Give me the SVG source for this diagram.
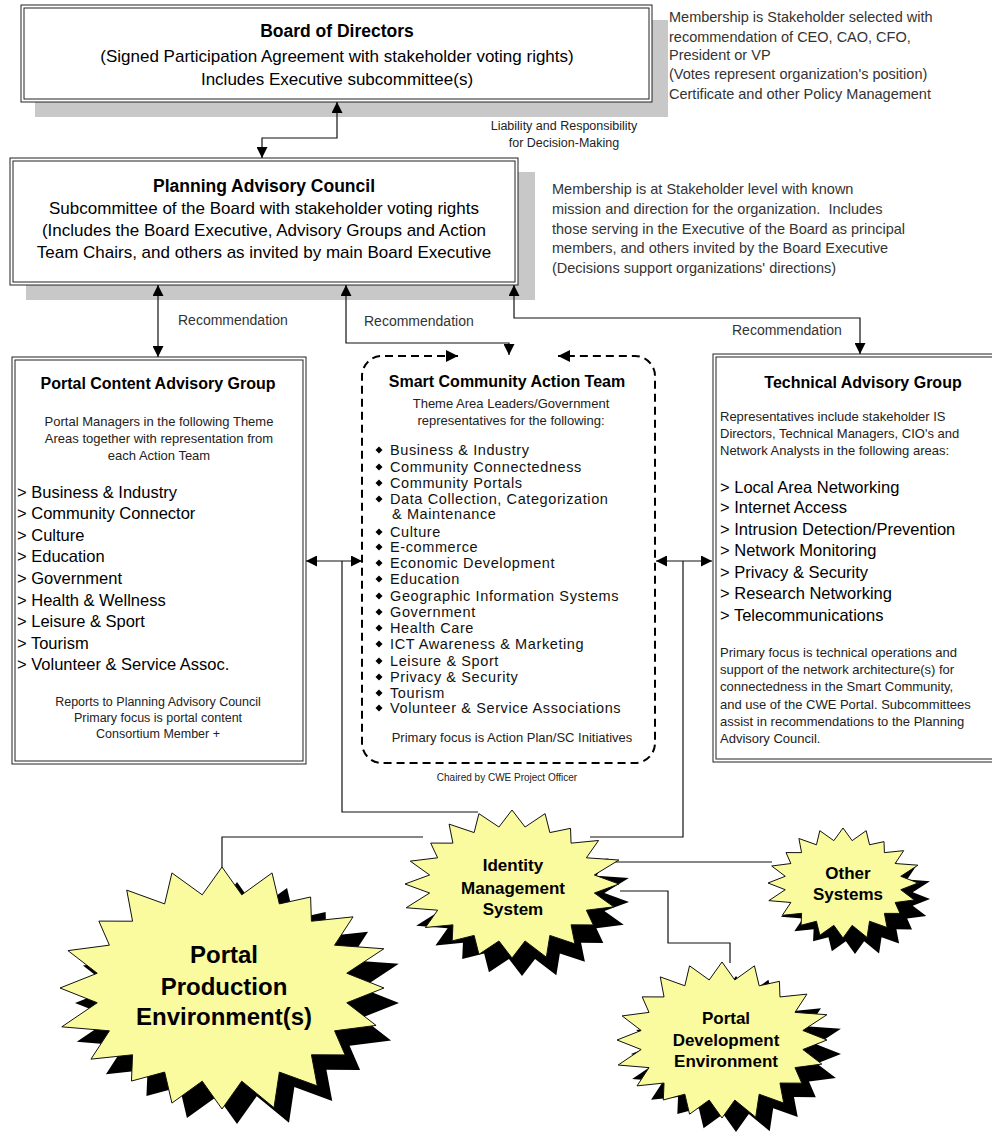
<svg xmlns="http://www.w3.org/2000/svg" width="992" height="1132" viewBox="0 0 992 1132">
<style>
text{font-family:"Liberation Sans",Arial,sans-serif;fill:#000}
.b{font-weight:bold}
.c{text-anchor:middle}
.h1{font-size:17.5px;font-weight:bold}
.t17{font-size:17px}
.h2{font-size:16px;font-weight:bold}
.note{font-size:14.5px;fill:#333}
.small{font-size:12.5px;fill:#222}
.desc{font-size:13px;fill:#222}
.item{font-size:16.5px}
.sitem{font-size:14.5px;letter-spacing:0.6px;fill:#111}
.rec{font-size:14px;fill:#333}
.tiny{font-size:10px;fill:#222}
.outer{fill:#fff;stroke:#222;stroke-width:1}
.inner{fill:none;stroke:#222;stroke-width:1}
.shadow{fill:#c8c8c8}
.line{fill:none;stroke:#111;stroke-width:1.2}
.arr{marker-start:url(#ah);marker-end:url(#ah)}
.dash{fill:#fff;stroke:#000;stroke-width:2;stroke-dasharray:8 5}
.starS{fill:#000}
.starF{fill:#fafa9e;stroke:#111;stroke-width:1}
.starT{font-weight:bold;font-size:17px;text-anchor:middle}
</style>
<defs>
<marker id="ah" viewBox="0 0 10 10" refX="10" refY="5" markerWidth="11" markerHeight="11" markerUnits="userSpaceOnUse" orient="auto-start-reverse"><path d="M0,0L10,5L0,10z" fill="#000"/></marker>
<marker id="ahd" viewBox="0 0 10 10" refX="10" refY="5" markerWidth="12" markerHeight="12" markerUnits="userSpaceOnUse" orient="auto-start-reverse"><path d="M0,0L10,5L0,10z" fill="#000"/></marker>
<polygon id="star" vector-effect="non-scaling-stroke" points="0,-100 12.2,-77 30.9,-95.1 35.4,-69.5 54.7,-75.2 55.2,-55.2 80.9,-58.8 69.5,-35.4 99.9,-32.4 77,-12.2 100,0 77,12.2 95.1,30.9 69.5,35.4 76,55.3 55.2,55.2 58.8,80.9 35.4,69.5 32.1,98.9 12.2,77 0,100 -12.2,77 -30.9,95.1 -35.4,69.5 -55.9,76.9 -55.2,55.2 -80.9,58.8 -69.5,35.4 -98.9,32.1 -77,12.2 -100,0 -77,-12.2 -95.1,-30.9 -69.5,-35.4 -76,-55.3 -55.2,-55.2 -58.8,-80.9 -35.4,-69.5 -30.9,-95.1 -12.2,-77"/>
<path id="dia" d="M0,-3.5L3.5,0L0,3.5L-3.5,0z" fill="#000"/>
</defs>

<rect width="992" height="1132" fill="#fff"/>

<g id="board">
<rect class="shadow" x="35" y="20" width="633" height="97"/>
<rect class="outer" x="21" y="5" width="631" height="97"/>
<rect class="inner" x="24" y="8" width="625" height="91"/>
<text class="h1 c" x="337" y="37">Board of Directors</text>
<text class="t17 c" x="337" y="62">(Signed Participation Agreement with stakeholder voting rights)</text>
<text class="t17 c" x="337" y="85">Includes Executive subcommittee(s)</text>
</g>

<g id="board-note">
<text class="note" x="669" y="22">Membership is Stakeholder selected with</text>
<text class="note" x="669" y="42">recommendation of CEO, CAO, CFO,</text>
<text class="note" x="669" y="60">President or VP</text>
<text class="note" x="669" y="79">(Votes represent organization's position)</text>
<text class="note" x="669" y="99">Certificate and other Policy Management</text>
</g>

<g id="planning">
<rect class="shadow" x="26" y="172" width="509" height="128"/>
<rect class="outer" x="10" y="158" width="508" height="127"/>
<rect class="inner" x="13" y="161" width="502" height="121"/>
<text class="h1 c" x="264" y="192">Planning Advisory Council</text>
<text class="t17 c" x="264" y="214">Subcommittee of the Board with stakeholder voting rights</text>
<text class="t17 c" x="264" y="236">(Includes the Board Executive, Advisory Groups and Action</text>
<text class="t17 c" x="264" y="258">Team Chairs, and others as invited by main Board Executive</text>
</g>

<g id="planning-note">
<text class="note" x="552" y="194">Membership is at Stakeholder level with known</text>
<text class="note" x="552" y="214" xml:space="preserve">mission and direction for the organization.  Includes</text>
<text class="note" x="552" y="234">those serving in the Executive of the Board as principal</text>
<text class="note" x="552" y="253">members, and others invited by the Board Executive</text>
<text class="note" x="552" y="273">(Decisions support organizations' directions)</text>
</g>

<g id="portal-content">
<rect class="outer" x="12" y="357" width="294" height="407"/>
<rect class="inner" x="15" y="360" width="288" height="401"/>
<text class="h2 c" x="158" y="389">Portal Content Advisory Group</text>
<text class="desc c" x="159" y="426">Portal Managers in the following Theme</text>
<text class="desc c" x="159" y="443">Areas together with representation from</text>
<text class="desc c" x="159" y="460">each Action Team</text>
<text class="item" x="17" y="498">&gt; Business &amp; Industry</text>
<text class="item" x="17" y="519">&gt; Community Connector</text>
<text class="item" x="17" y="541">&gt; Culture</text>
<text class="item" x="17" y="562">&gt; Education</text>
<text class="item" x="17" y="584">&gt; Government</text>
<text class="item" x="17" y="606">&gt; Health &amp; Wellness</text>
<text class="item" x="17" y="627">&gt; Leisure &amp; Sport</text>
<text class="item" x="17" y="649">&gt; Tourism</text>
<text class="item" x="17" y="670">&gt; Volunteer &amp; Service Assoc.</text>
<text class="small c" x="158" y="706">Reports to Planning Advisory Council</text>
<text class="small c" x="158" y="722">Primary focus is portal content</text>
<text class="small c" x="158" y="738">Consortium Member +</text>
</g>

<g id="action-team">
<path class="dash" d="M458,356H382A20,20 0 0 0 362,376V743A20,20 0 0 0 382,763H635A20,20 0 0 0 655,743V376A20,20 0 0 0 635,356H558" marker-start="url(#ahd)" marker-end="url(#ahd)"/>
<text class="h2 c" x="507" y="387">Smart Community Action Team</text>
<text class="desc c" x="511" y="408">Theme Area Leaders/Government</text>
<text class="desc c" x="511" y="425">representatives for the following:</text>
<use href="#dia" x="379" y="450"/><text class="sitem" x="390" y="455">Business &amp; Industry</text>
<use href="#dia" x="379" y="467"/><text class="sitem" x="390" y="472">Community Connectedness</text>
<use href="#dia" x="379" y="483"/><text class="sitem" x="390" y="488">Community Portals</text>
<use href="#dia" x="379" y="499"/><text class="sitem" x="390" y="504">Data Collection, Categorization</text>
<text class="sitem" x="392" y="519">&amp; Maintenance</text>
<use href="#dia" x="379" y="532"/><text class="sitem" x="390" y="537">Culture</text>
<use href="#dia" x="379" y="547"/><text class="sitem" x="390" y="552">E-commerce</text>
<use href="#dia" x="379" y="563"/><text class="sitem" x="390" y="568">Economic Development</text>
<use href="#dia" x="379" y="579"/><text class="sitem" x="390" y="584">Education</text>
<use href="#dia" x="379" y="596"/><text class="sitem" x="390" y="601">Geographic Information Systems</text>
<use href="#dia" x="379" y="612"/><text class="sitem" x="390" y="617">Government</text>
<use href="#dia" x="379" y="628"/><text class="sitem" x="390" y="633">Health Care</text>
<use href="#dia" x="379" y="644"/><text class="sitem" x="390" y="649">ICT Awareness &amp; Marketing</text>
<use href="#dia" x="379" y="661"/><text class="sitem" x="390" y="666">Leisure &amp; Sport</text>
<use href="#dia" x="379" y="677"/><text class="sitem" x="390" y="682">Privacy &amp; Security</text>
<use href="#dia" x="379" y="693"/><text class="sitem" x="390" y="698">Tourism</text>
<use href="#dia" x="379" y="708"/><text class="sitem" x="390" y="713">Volunteer &amp; Service Associations</text>
<text class="desc c" x="512" y="742">Primary focus is Action Plan/SC Initiatives</text>
<text class="tiny c" x="507" y="781">Chaired by CWE Project Officer</text>
</g>

<g id="technical">
<rect class="outer" x="713" y="354" width="290" height="408"/>
<rect class="inner" x="716" y="357" width="284" height="402"/>
<text class="h2 c" x="863" y="388">Technical Advisory Group</text>
<text class="desc" x="720" y="421">Representatives include stakeholder IS</text>
<text class="desc" x="720" y="438">Directors, Technical Managers, CIO's and</text>
<text class="desc" x="720" y="455">Network Analysts in the following areas:</text>
<text class="item" x="720" y="493">&gt; Local Area Networking</text>
<text class="item" x="720" y="513">&gt; Internet Access</text>
<text class="item" x="720" y="535">&gt; Intrusion Detection/Prevention</text>
<text class="item" x="720" y="556">&gt; Network Monitoring</text>
<text class="item" x="720" y="578">&gt; Privacy &amp; Security</text>
<text class="item" x="720" y="599">&gt; Research Networking</text>
<text class="item" x="720" y="621">&gt; Telecommunications</text>
<text class="desc" x="720" y="657">Primary focus is technical operations and</text>
<text class="desc" x="720" y="674">support of the network architecture(s) for</text>
<text class="desc" x="720" y="691">connectedness in the Smart Community,</text>
<text class="desc" x="720" y="709">and use of the CWE Portal. Subcommittees</text>
<text class="desc" x="720" y="726">assist in recommendations to the Planning</text>
<text class="desc" x="720" y="743">Advisory Council.</text>
</g>

<g id="connectors">
<path class="line arr" d="M337,102V138H262V158"/>
<path class="line arr" d="M158,285V357"/>
<path class="line arr" d="M346,285V343H509V355"/>
<path class="line arr" d="M514,285V318H860V354"/>
<path class="line arr" d="M306,561H362"/>
<path class="line" d="M342,561V812H478"/>
<path class="line arr" d="M656,561H712"/>
<path class="line" d="M683,561V837H590"/>
<path class="line" d="M222,868V837H423"/>
<path class="line" d="M607,862H772"/>
<path class="line" d="M620,891H668V943H730V963"/>
<text class="rec" x="178" y="325">Recommendation</text>
<text class="rec" x="364" y="326">Recommendation</text>
<text class="rec" x="732" y="335">Recommendation</text>
<text class="small c" x="564" y="130">Liability and Responsibility</text>
<text class="small c" x="564" y="147">for Decision-Making</text>
</g>

<g id="portal-production">
<use href="#star" class="starS" transform="translate(237,1003) scale(1.62,1.21)"/>
<use href="#star" class="starF" transform="translate(222,988) scale(1.62,1.21)"/>
<text class="starT" style="font-size:24px" x="224" y="963">Portal</text>
<text class="starT" style="font-size:24px" x="224" y="995">Production</text>
<text class="starT" style="font-size:24px" x="224" y="1025">Environment(s)</text>
</g>

<g id="identity">
<use href="#star" class="starS" transform="translate(522,902) scale(1.07,0.74)"/>
<use href="#star" class="starF" transform="translate(512,884) scale(1.07,0.74)"/>
<text class="starT" x="513" y="871">Identity</text>
<text class="starT" x="513" y="894">Management</text>
<text class="starT" x="513" y="915">System</text>
</g>

<g id="other-systems">
<use href="#star" class="starS" transform="translate(855,899) scale(0.75,0.55)"/>
<use href="#star" class="starF" transform="translate(843,883) scale(0.75,0.55)"/>
<text class="starT" x="848" y="879">Other</text>
<text class="starT" x="848" y="900">Systems</text>
</g>

<g id="portal-development">
<use href="#star" class="starS" transform="translate(736,1054) scale(1.05,0.78)"/>
<use href="#star" class="starF" transform="translate(722,1040) scale(1.05,0.78)"/>
<text class="starT" x="726" y="1024">Portal</text>
<text class="starT" x="726" y="1046">Development</text>
<text class="starT" x="726" y="1067">Environment</text>
</g>
</svg>
